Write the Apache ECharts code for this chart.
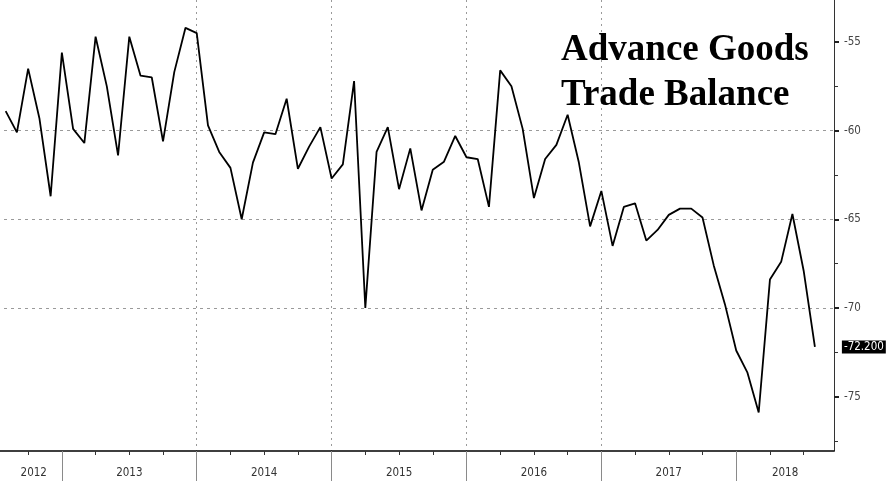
<!DOCTYPE html>
<html>
<head>
<meta charset="utf-8">
<script src="https://cdn.jsdelivr.net/npm/echarts@6/dist/echarts.min.js"></script>
<style>
  html, body { margin: 0; padding: 0; background: #fff; }
  #main { width: 890px; height: 483px; }
</style>
</head>
<body>
<div id="main"></div>
<script>
// data: monthly advance goods trade balance, $bn, Jul 2012 .. Jul 2018
const startYear = 2012
const startMonth = 7
const balance = [
  -58.9, -60.1, -56.5, -59.3, -63.7, -55.6,                      // 2012 Jul-Dec
  -59.9, -60.7, -54.7, -57.5, -61.4, -54.7, -56.9, -57.0, -60.6, -56.7, -54.2, -54.5,   // 2013
  -59.7, -61.2, -62.1, -65.0, -61.8, -60.1, -60.2, -58.2, -62.15, -60.9, -59.8, -62.7,  // 2014
  -61.9, -57.2, -70.0, -61.2, -59.8, -63.3, -61.0, -64.5, -62.2, -61.75, -60.3, -61.5,  // 2015
  -61.6, -64.3, -56.6, -57.5, -59.9, -63.8, -61.6, -60.8, -59.1, -61.8, -65.4, -63.4,   // 2016
  -66.5, -64.3, -64.1, -66.2, -65.6, -64.75, -64.4, -64.4, -64.9, -67.6, -69.8, -72.4,  // 2017
  -73.65, -75.9, -68.4, -67.4, -64.7, -67.9, -72.2                // 2018 Jan-Jul
]
const years = ['2012', '2013', '2014', '2015', '2016', '2017', '2018']
const yTicks = [-75, -70, -65, -60, -55]
const titleText = 'Advance Goods\nTrade Balance'

// x is counted in months from the end of 2011
const xMin = 0
const xMax = 80.7
const firstT = (startYear - 2012) * 12 + startMonth
const points = balance.map((v, i) => [firstT + i, v])

const yearEnds = years.slice(1).map((y, i) => (i + 1) * 12)
const quarterTicks = []
for (let q = 3; q < xMax; q += 3) if (q % 12 !== 0) quarterTicks.push(q)
const yearLabelPos = years.map((y, i) =>
  (Math.max(i * 12, firstT) + Math.min(i * 12 + 12, xMax)) / 2)
const yMinor = yTicks.map(v => v - 2.5).concat([yTicks[yTicks.length - 1] + 2.5])

const narrow = "'Liberation Sans Narrow', 'DejaVu Sans Condensed', sans-serif"
const hDash = { type: [3, 4], color: '#9a9a9a', width: 1 }
const vDash = { type: [2, 4], color: '#9a9a9a', width: 1 }

const options = {
  animation: false,
  backgroundColor: '#fff',
  title: {
    text: titleText,
    left: 561,
    top: 28,
    padding: 0,
    textStyle: {
      fontFamily: "'Liberation Serif', 'DejaVu Serif', serif",
      fontWeight: 'bold',
      fontSize: 37,
      lineHeight: 45,
      color: '#000'
    }
  },
  grid: { left: -73, right: 56, top: 0, bottom: 32, outerBoundsMode: 'none' },
  xAxis: [
    {
      type: 'value',
      position: 'bottom',
      min: xMin,
      max: xMax,
      interval: 12,
      axisLine: { show: true, onZero: false, lineStyle: { color: '#000', width: 1.5 } },
      axisTick: { show: true, customValues: yearEnds, length: 30, lineStyle: { color: '#8a8a8a', width: 1 } },
      axisLabel: { show: false },
      splitLine: { show: true, showMinLine: false, showMaxLine: false, lineStyle: vDash }
    },
    {
      type: 'value',
      position: 'bottom',
      min: xMin,
      max: xMax,
      axisLine: { show: false, onZero: false },
      axisTick: { show: true, customValues: quarterTicks, length: 4, lineStyle: { color: '#333', width: 1 } },
      axisLabel: {
        show: true,
        customValues: yearLabelPos,
        formatter: v => years[yearLabelPos.findIndex(p => Math.abs(p - v) < 1e-6)] || '',
        margin: 16,
        color: '#333',
        fontSize: 11.5,
        fontFamily: narrow
      },
      splitLine: { show: false }
    }
  ],
  yAxis: [
    {
      type: 'value',
      position: 'right',
      min: -78.07,
      max: -52.63,
      splitNumber: 5,
      axisLine: { show: true, onZero: false, lineStyle: { color: '#333', width: 1 } },
      axisTick: { show: true, customValues: yTicks, length: 5, lineStyle: { color: '#222', width: 2 } },
      axisLabel: { show: true, customValues: yTicks, margin: 10, color: '#444', fontSize: 11.5, fontFamily: narrow },
      splitLine: { show: true, showMinLine: false, showMaxLine: false, lineStyle: hDash }
    },
    {
      type: 'value',
      position: 'right',
      min: -78.07,
      max: -52.63,
      axisLine: { show: false, onZero: false },
      axisTick: { show: true, customValues: yMinor, length: 4, lineStyle: { color: '#333', width: 1 } },
      axisLabel: { show: false },
      splitLine: { show: false }
    }
  ],
  series: [
    {
      type: 'line',
      data: points,
      xAxisIndex: 0,
      yAxisIndex: 0,
      symbol: 'none',
      lineStyle: { color: '#000', width: 1.8 },
      endLabel: {
        show: true,
        formatter: p => p.value[1].toFixed(3),
        distance: 27,
        backgroundColor: '#000',
        color: '#fff',
        padding: [1, 2, 0, 2],
        fontSize: 11.5,
        fontFamily: narrow
      }
    }
  ]
}

const myChart = echarts.init(document.getElementById('main'))
myChart.setOption(options)
window.onresize = () => myChart.resize()
</script>
</body>
</html>
